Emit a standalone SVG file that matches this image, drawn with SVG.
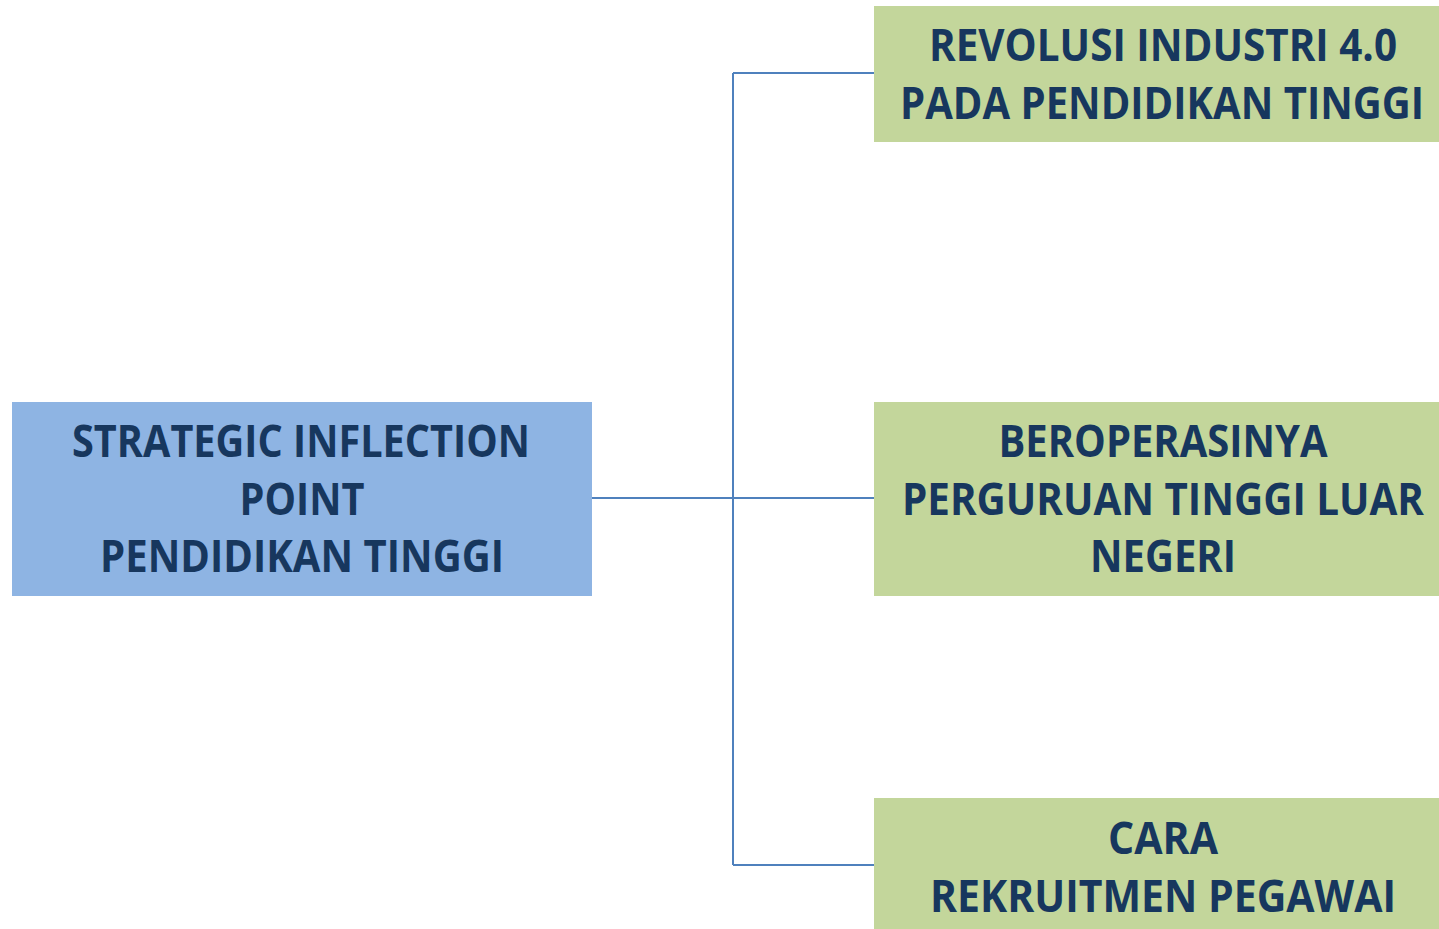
<svg xmlns="http://www.w3.org/2000/svg" width="1439" height="929" viewBox="0 0 1439 929">
<style>
.blue{fill:#8EB4E3;}
.green{fill:#C3D69B;}
.t{font-family:"Open Sans","Liberation Sans",sans-serif;font-weight:700;font-size:44px;fill:#17375E;text-anchor:middle;}
.c{fill:none;stroke:#4F81BD;stroke-width:2;}
</style>
<rect width="1439" height="929" fill="#FFFFFF"/>
<g id="connectors">
<path class="c" d="M592 498 H874"/>
<path class="c" d="M733 73 V865"/>
<path class="c" d="M733 73 H874"/>
<path class="c" d="M733 865 H874"/>
</g>
<g id="node-main">
<rect class="blue" x="12" y="402" width="580" height="194"/>
<text class="t" x="301" y="457" textLength="458" lengthAdjust="spacingAndGlyphs">STRATEGIC INFLECTION</text>
<text class="t" x="302" y="515" textLength="125" lengthAdjust="spacingAndGlyphs">POINT</text>
<text class="t" x="302" y="572" textLength="404" lengthAdjust="spacingAndGlyphs">PENDIDIKAN TINGGI</text>
</g>
<g id="node-revolusi">
<rect class="green" x="874" y="6" width="565" height="136"/>
<text class="t" x="1163" y="61" textLength="468" lengthAdjust="spacingAndGlyphs">REVOLUSI INDUSTRI 4.0</text>
<text class="t" x="1162" y="119" textLength="524" lengthAdjust="spacingAndGlyphs">PADA PENDIDIKAN TINGGI</text>
</g>
<g id="node-beroperasinya">
<rect class="green" x="874" y="402" width="565" height="194"/>
<text class="t" x="1163" y="457" textLength="329" lengthAdjust="spacingAndGlyphs">BEROPERASINYA</text>
<text class="t" x="1163" y="515" textLength="522" lengthAdjust="spacingAndGlyphs">PERGURUAN TINGGI LUAR</text>
<text class="t" x="1163" y="572" textLength="146" lengthAdjust="spacingAndGlyphs">NEGERI</text>
</g>
<g id="node-cara">
<rect class="green" x="874" y="798" width="565" height="131"/>
<text class="t" x="1163" y="854" textLength="110" lengthAdjust="spacingAndGlyphs">CARA</text>
<text class="t" x="1163" y="912" textLength="466" lengthAdjust="spacingAndGlyphs">REKRUITMEN PEGAWAI</text>
</g>
</svg>
